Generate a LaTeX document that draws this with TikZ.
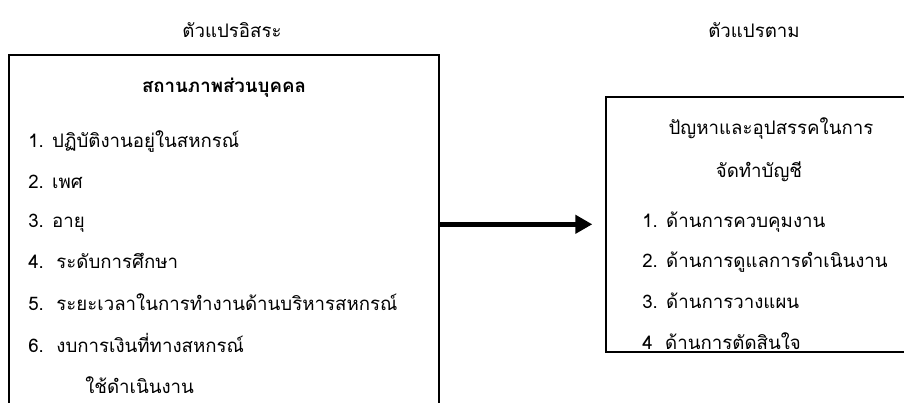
\documentclass[tikz,border=0pt]{standalone}
\usepackage{fontspec}
\newfontfamily\thaifont[Script=Thai]{Loma}
\usetikzlibrary{arrows.meta,positioning}

\begin{document}
\begin{tikzpicture}[x=0.75pt,y=-0.75pt,
  box/.style={draw,line width=1.5pt,inner sep=0pt},
  txt/.style={font=\thaifont\fontsize{14}{16}\selectfont,inner sep=0pt,anchor=base west},
  ttl/.style={txt,anchor=base},
  arr/.style={-{Triangle[length=12.75pt,width=13.5pt]},line width=3.75pt}
]
  \useasboundingbox (0,0) rectangle (904,403);
  \clip (0,0) rectangle (904,403);
  % Titles
  \node[ttl] (tindep) at (232,38) {ตัวแปรอิสระ};
  \node[ttl] (tdep) at (754,38) {ตัวแปรตาม};
  % Boxes
  \node[box,minimum width=322.5pt,minimum height=281.25pt] (indep) at (224,242.5) {};
  \node[box,minimum width=231.75pt,minimum height=191.5pt] (dep) at (760.5,224.3) {};
  % Independent variables
  \node[ttl,font=\thaifont\bfseries\fontsize{14}{16}\selectfont] (head) at (224,93) {สถานภาพส่วนบุคคล};
  \node[txt] (i1) at (28,147) {1. ปฏิบัติงานอยู่ในสหกรณ์};
  \node[txt] (i2) at (28,188) {2. เพศ};
  \node[txt] (i3) at (28,227) {3. อายุ};
  \node[txt] (i4) at (28,268) {4.\ \ ระดับการศึกษา};
  \node[txt] (i5) at (28,310) {5.\ \ ระยะเวลาในการทำงานด้านบริหารสหกรณ์};
  \node[txt] (i6) at (28,352) {6.\ \ งบการเงินที่ทางสหกรณ์};
  \node[txt] (i6b) at (85,393) {ใช้ดำเนินงาน};
  % Dependent variables
  \begin{scope}
    \clip (dep.north west) rectangle (dep.south east);
    \node[ttl] (dhead) at (771,135) {ปัญหาและอุปสรรคในการ};
    \node[ttl] (dhead2) at (759,177) {จัดทำบัญชี};
    \node[txt] (d1) at (642,227) {1. ด้านการควบคุมงาน};
    \node[txt] (d2) at (642,267) {2. ด้านการดูแลการดำเนินงาน};
    \node[txt] (d3) at (642,308) {3. ด้านการวางแผน};
    \node[txt] (d4) at (642,349) {4\ \ ด้านการตัดสินใจ};
  \end{scope}
  % Arrow
  \draw[arr,shorten >=9.5pt] (indep.east |- dep.west) -- (dep.west);
\end{tikzpicture}
\end{document}
